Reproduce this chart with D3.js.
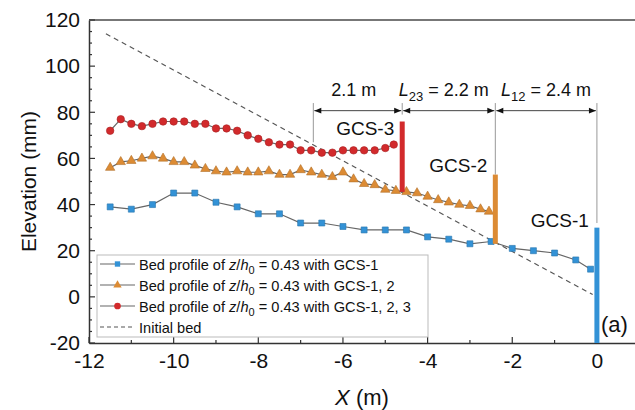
<!DOCTYPE html>
<html lang="en">
  <head>
    <meta charset="UTF-8" />
    <title>Bed profile</title>
    <style>
      body { margin: 0; background: #fff; }
      svg { font-family: "Liberation Sans", Arial, sans-serif; }
    </style>
  </head>
  <body>
    <div class="chart"></div>
    <script src="https://d3js.org/d3.v7.min.js"></script>
    <script>
      // 資料
      const gcs1X = [-11.5,-11,-10.5,-10,-9.5,-9,-8.5,-8,-7.5,-7,-6.5,-6,-5.5,-5,-4.5,-4,-3.5,-3,-2.5,-2,-1.5,-1,-0.5,-0.15];
      const gcs1Y = [39,38,40,45,45,41,39,36,36,32,32,30.5,29,29,29,26,25,23,24,21,20,19,16,12];

      const gcs12X = [-11.5,-11.25,-11,-10.75,-10.5,-10.25,-10,-9.75,-9.5,-9.25,-9,-8.75,-8.5,-8.25,-8,-7.75,-7.5,-7.25,-7,-6.75,-6.5,-6.25,-6,-5.75,-5.5,-5.25,-5,-4.75,-4.5,-4.25,-4,-3.75,-3.5,-3.25,-3,-2.75,-2.55];
      const gcs12Y = [56,58.5,59,60,61,60,58.5,58.5,57,55.5,54.5,54,54.5,54,54,54.5,53,53,55,54,53,52,54,51,49,48.5,46.5,46,45.5,45,43.5,42,41,40,39.5,38,37];

      const gcs123X = [-11.5,-11.25,-11,-10.75,-10.5,-10.25,-10,-9.75,-9.5,-9.25,-9,-8.75,-8.5,-8.25,-8,-7.75,-7.5,-7.25,-7,-6.75,-6.5,-6.25,-6,-5.75,-5.5,-5.25,-5,-4.8];
      const gcs123Y = [72,77,75,74,75,76,76,76,75,75,73,73,72,70,68.5,67,66,66,63.5,63.5,62.5,62.5,63.5,63.5,63.5,63.5,64.5,66];

      const initialX = [-11.6, -0.1];
      const initialY = [114, 1];

      // 結構物 GCS-1, 2, 3
      const gcsNames = ['GCS-1', 'GCS-2', 'GCS-3'];
      const gcsX = [0, -2.4, -4.6];
      const gcsBottom = [-20, 23, 45.5];
      const gcsTop = [30, 53, 76];

      const xTicks = [-12, -10, -8, -6, -4, -2, 0];
      const yTicks = [-20, 0, 20, 40, 60, 80, 100, 120];

      // 建立SVG
      const svgWidth = 635, svgHeight = 410;
      const svg = d3.select('.chart')
                    .append('svg')
                    .attr('width', svgWidth)
                    .attr('height', svgHeight);

      const xScale = d3.scaleLinear().domain([-12, 0.9]).range([89, 635]);
      const yScale = d3.scaleLinear().domain([-20, 120]).range([343, 20]);

      const blue = '#3392d6', orange = '#dc8b34', red = '#d22a2c';
      const lineGray = '#666';
      const fmt = d => String(d);   // 用一般減號

      // 箭頭
      const defs = svg.append('defs');
      defs.append('marker')
          .attr('id', 'arr')
          .attr('viewBox', '0 0 10 10')
          .attr('refX', 10).attr('refY', 5)
          .attr('markerWidth', 10).attr('markerHeight', 7)
          .attr('markerUnits', 'userSpaceOnUse')
          .attr('orient', 'auto-start-reverse')
          .append('path')
          .attr('d', 'M0,1 L10,5 L0,9 Z')
          .attr('fill', '#111');

      // 座標軸
      const xAxis = svg.append('g')
          .attr('transform', `translate(0,${yScale(-20)})`)
          .call(d3.axisBottom(xScale).tickValues(xTicks).tickSize(0).tickPadding(10).tickFormat(fmt));
      xAxis.select('.domain').attr('stroke', '#333').attr('stroke-width', 1.5);
      xAxis.selectAll('text').attr('font-size', 21).attr('fill', '#111')
           .attr('font-family', '"Liberation Sans", Arial, sans-serif');

      const yAxis = svg.append('g')
          .attr('transform', `translate(${xScale(-12)},0)`)
          .call(d3.axisLeft(yScale).tickValues(yTicks).tickSize(0).tickPadding(9).tickFormat(fmt));
      yAxis.select('.domain').attr('stroke', '#333').attr('stroke-width', 1.5);
      yAxis.selectAll('text').attr('font-size', 21).attr('fill', '#111')
           .attr('font-family', '"Liberation Sans", Arial, sans-serif');

      // 上框線
      svg.append('line')
         .attr('x1', xScale(-12)).attr('x2', xScale(0.9))
         .attr('y1', yScale(120)).attr('y2', yScale(120))
         .attr('stroke', '#777').attr('stroke-width', 2);

      // 內向刻度
      const xMinor = d3.range(-12, 1, 1);
      svg.append('g').selectAll('line')
         .data(xMinor)
         .join('line')
         .attr('x1', d => xScale(d)).attr('x2', d => xScale(d))
         .attr('y1', yScale(-20))
         .attr('y2', d => yScale(-20) - (d % 2 === 0 ? 6 : 3))
         .attr('stroke', '#333').attr('stroke-width', 1.2);

      const yMinor = d3.range(-20, 121, 5);
      svg.append('g').selectAll('line')
         .data(yMinor)
         .join('line')
         .attr('y1', d => yScale(d)).attr('y2', d => yScale(d))
         .attr('x1', xScale(-12))
         .attr('x2', d => xScale(-12) + (d % 20 === 0 ? 6 : 3))
         .attr('stroke', '#333').attr('stroke-width', 1.2);

      // 軸標題
      svg.append('text')
         .attr('transform', `translate(36,${(yScale(120) + yScale(-20)) / 2}) rotate(-90)`)
         .attr('text-anchor', 'middle')
         .attr('font-size', 21).attr('fill', '#111')
         .text('Elevation (mm)');

      const xTitle = svg.append('text')
         .attr('x', 362).attr('y', 405)
         .attr('text-anchor', 'middle')
         .attr('font-size', 22).attr('fill', '#111');
      xTitle.append('tspan').attr('font-style', 'italic').text('X');
      xTitle.append('tspan').text(' (m)');

      // 初始河床
      const lineGen = d3.line().x(d => xScale(d[0])).y(d => yScale(d[1]));
      svg.append('path')
         .attr('d', lineGen(d3.zip(initialX, initialY)))
         .attr('fill', 'none').attr('stroke', '#555')
         .attr('stroke-width', 1.2).attr('stroke-dasharray', '5,4');

      // 剖面線
      const series = [
        { xs: gcs1X, ys: gcs1Y, color: blue, shape: d3.symbolSquare, size: 36 },
        { xs: gcs12X, ys: gcs12Y, color: orange, shape: d3.symbolTriangle, size: 38 },
        { xs: gcs123X, ys: gcs123Y, color: red, shape: d3.symbolCircle, size: 44 }
      ];

      series.forEach(s => {
        const pts = d3.zip(s.xs, s.ys);
        svg.append('path')
           .attr('d', lineGen(pts))
           .attr('fill', 'none').attr('stroke', lineGray).attr('stroke-width', 1.2);
        svg.append('g').selectAll('path')
           .data(pts)
           .join('path')
           .attr('transform', d => `translate(${xScale(d[0])},${yScale(d[1])})`)
           .attr('d', d3.symbol().type(s.shape).size(s.size))
           .attr('fill', s.color)
           .attr('stroke', d3.color(s.color).darker(0.6)).attr('stroke-width', 0.6);
      });

      // 尺寸標註
      const dimY = 80.7, extTop = 84;
      const dimX = [-6.7, -4.6, -2.4, 0];
      const extBottom = [67, 79, 53, 32];
      svg.append('g').selectAll('line')
         .data(dimX)
         .join('line')
         .attr('x1', d => xScale(d)).attr('x2', d => xScale(d))
         .attr('y1', yScale(extTop))
         .attr('y2', (d, i) => yScale(extBottom[i]))
         .attr('stroke', '#999').attr('stroke-width', 1);

      d3.pairs(dimX).forEach(([a, b]) => {
        svg.append('line')
           .attr('x1', xScale(a) + 1).attr('x2', xScale(b) - 1)
           .attr('y1', yScale(dimY)).attr('y2', yScale(dimY))
           .attr('stroke', '#444').attr('stroke-width', 1)
           .attr('marker-start', 'url(#arr)').attr('marker-end', 'url(#arr)');
      });

      const dimLabels = [
        { L: null, sub: null, txt: '2.1 m', dx: -4 },
        { L: 'L', sub: '23', txt: ' = 2.2 m', dx: -5 },
        { L: 'L', sub: '12', txt: ' = 2.4 m', dx: 0 }
      ];
      d3.pairs(dimX).forEach(([a, b], i) => {
        const lb = dimLabels[i];
        const t = svg.append('text')
           .attr('x', (xScale(a) + xScale(b)) / 2 + lb.dx)
           .attr('y', 96)
           .attr('text-anchor', 'middle')
           .attr('font-size', 18).attr('fill', '#111');
        if (lb.L) {
          t.append('tspan').attr('font-style', 'italic').text(lb.L);
          t.append('tspan').attr('font-size', 13).attr('dy', 5).text(lb.sub);
          t.append('tspan').attr('dy', -5).text(lb.txt);
        } else {
          t.text(lb.txt);
        }
      });

      // 結構物長條
      const barColors = [blue, orange, red];
      svg.append('g').selectAll('rect')
         .data(gcsX)
         .join('rect')
         .attr('x', d => xScale(d) - 2.5)
         .attr('width', 5)
         .attr('y', (d, i) => yScale(gcsTop[i]))
         .attr('height', (d, i) => yScale(gcsBottom[i]) - yScale(gcsTop[i]))
         .attr('fill', (d, i) => barColors[i]);

      const gcsLabelY = [227, 172, 135];
      svg.append('g').selectAll('text')
         .data(gcsNames)
         .join('text')
         .attr('x', (d, i) => xScale(gcsX[i]) - 8)
         .attr('y', (d, i) => gcsLabelY[i])
         .attr('text-anchor', 'end')
         .attr('font-size', 19).attr('fill', '#111')
         .text(d => d);

      svg.append('text')
         .attr('x', 601).attr('y', 332)
         .attr('font-size', 22).attr('fill', '#111')
         .text('(a)');

      // 圖例
      const legend = svg.append('g');
      legend.append('rect')
            .attr('x', 97).attr('y', 255)
            .attr('width', 331).attr('height', 82)
            .attr('fill', '#fff').attr('stroke', '#bbb').attr('stroke-width', 1);

      const legendNames = ['with GCS-1', 'with GCS-1, 2', 'with GCS-1, 2, 3', 'Initial bed'];
      legendNames.forEach((name, i) => {
        const cy = 264 + i * 21;
        if (i < 3) {
          const s = series[i];
          legend.append('line')
                .attr('x1', 100).attr('x2', 135).attr('y1', cy).attr('y2', cy)
                .attr('stroke', lineGray).attr('stroke-width', 1.2);
          legend.append('path')
                .attr('transform', `translate(117.5,${cy})`)
                .attr('d', d3.symbol().type(s.shape).size(s.size * 0.8))
                .attr('fill', s.color);
          const t = legend.append('text')
                .attr('x', 139).attr('y', cy + 5.5)
                .attr('font-size', 14.6).attr('fill', '#111');
          t.append('tspan').text('Bed profile of ');
          t.append('tspan').attr('font-style', 'italic').text('z');
          t.append('tspan').text('/');
          t.append('tspan').attr('font-style', 'italic').text('h');
          t.append('tspan').attr('font-size', 11).attr('dy', 4).text('0');
          t.append('tspan').attr('dy', -4).text(' = 0.43 ' + name);
        } else {
          legend.append('line')
                .attr('x1', 100).attr('x2', 135).attr('y1', cy).attr('y2', cy)
                .attr('stroke', '#555').attr('stroke-width', 1.2)
                .attr('stroke-dasharray', '4,3');
          legend.append('text')
                .attr('x', 139).attr('y', cy + 5.5)
                .attr('font-size', 14.6).attr('fill', '#111')
                .text(name);
        }
      });
    </script>
  </body>
</html>
